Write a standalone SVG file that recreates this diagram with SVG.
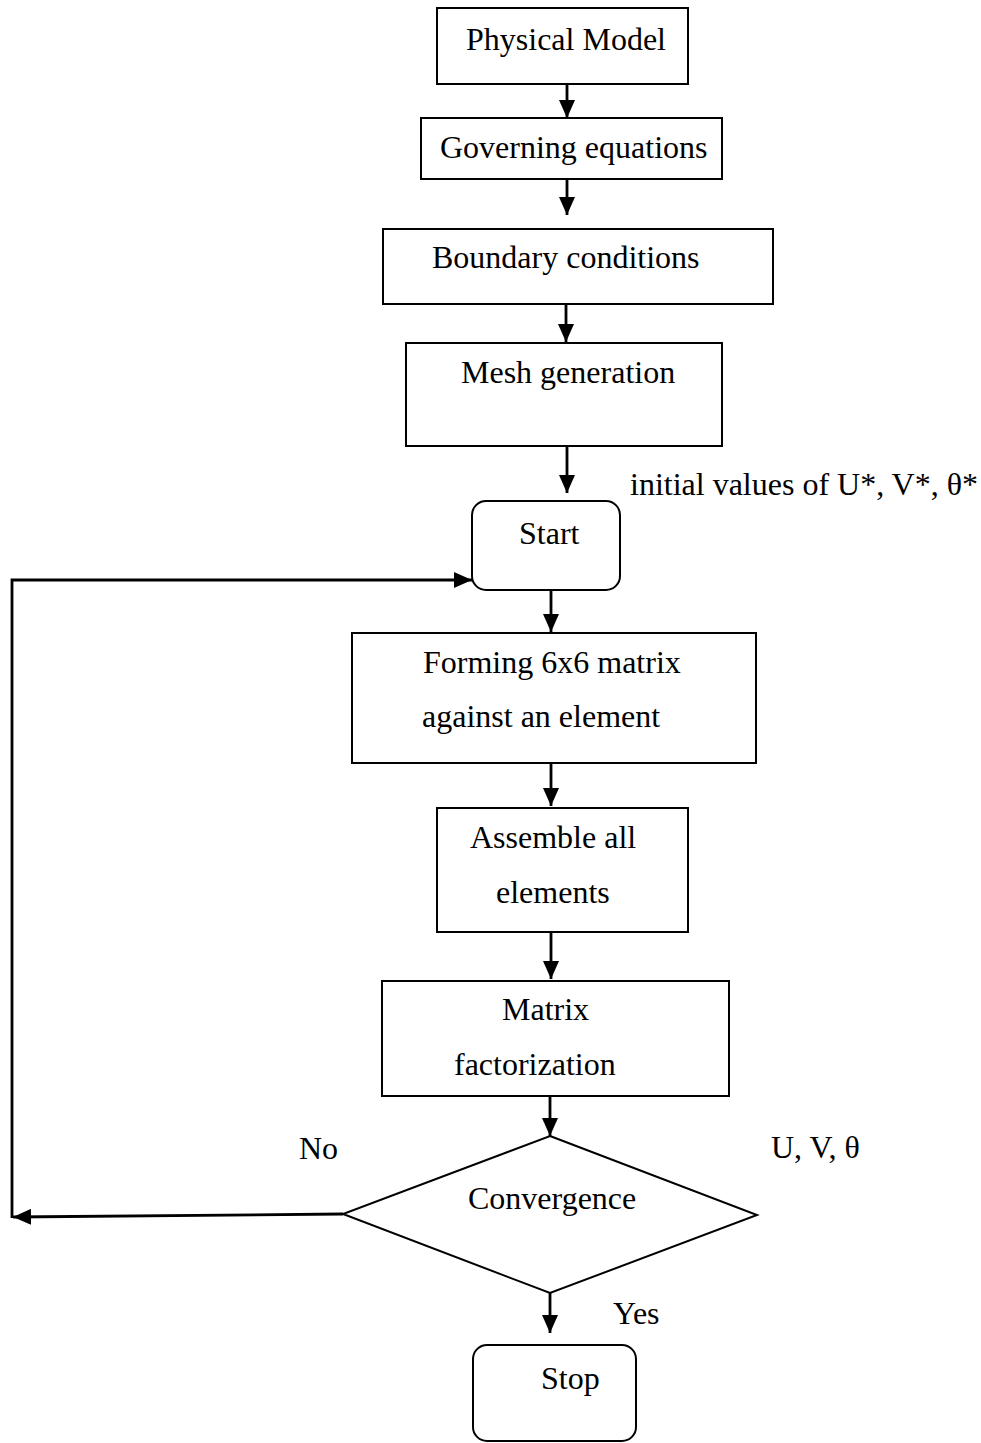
<svg xmlns="http://www.w3.org/2000/svg" width="981" height="1443" viewBox="0 0 981 1443">
<style>
.box{fill:#fff;stroke:#000;stroke-width:2}
.t{font-family:"Liberation Serif","Times New Roman",serif;font-size:32px;fill:#000}
.c{fill:none;stroke:#000;stroke-width:2.8}
</style>
<defs>
<marker id="ah" viewBox="0 0 18 16" refX="18" refY="8" markerWidth="18" markerHeight="16" markerUnits="userSpaceOnUse" orient="auto">
<path d="M0,0 L18,8 L0,16 z" fill="#000"/>
</marker>
</defs>
<rect width="981" height="1443" fill="#fff"/>
<g id="connectors">
<path class="c" d="M567,84 V118" marker-end="url(#ah)"/>
<path class="c" d="M567,179 V215" marker-end="url(#ah)"/>
<path class="c" d="M566,304 V342" marker-end="url(#ah)"/>
<path class="c" d="M567,446 V493" marker-end="url(#ah)"/>
<path class="c" d="M551,590 V632" marker-end="url(#ah)"/>
<path class="c" d="M551,763 V806" marker-end="url(#ah)"/>
<path class="c" d="M551,932 V979" marker-end="url(#ah)"/>
<path class="c" d="M550,1096 V1136" marker-end="url(#ah)"/>
<path class="c" d="M550,1293 V1333" marker-end="url(#ah)"/>
<path class="c" d="M343,1214 L13,1217" marker-end="url(#ah)"/>
<path class="c" d="M12,1218 V580 H472" marker-end="url(#ah)"/>
</g>
<g id="physical-model">
<rect class="box" x="437" y="8" width="251" height="76"/>
<text class="t" x="466" y="50">Physical Model</text>
</g>
<g id="governing-equations">
<rect class="box" x="421" y="118" width="301" height="61"/>
<text class="t" x="440" y="158">Governing equations</text>
</g>
<g id="boundary-conditions">
<rect class="box" x="383" y="229" width="390" height="75"/>
<text class="t" x="432" y="268">Boundary conditions</text>
</g>
<g id="mesh-generation">
<rect class="box" x="406" y="343" width="316" height="103"/>
<text class="t" x="461" y="383">Mesh generation</text>
</g>
<g id="initial-values-label">
<text class="t" x="630" y="495">initial values of U*, V*, θ*</text>
</g>
<g id="start">
<rect class="box" x="472" y="501" width="148" height="89" rx="14" ry="14"/>
<text class="t" x="519" y="544">Start</text>
</g>
<g id="forming-matrix">
<rect class="box" x="352" y="633" width="404" height="130"/>
<text class="t" x="423" y="673">Forming 6x6 matrix</text>
<text class="t" x="422" y="727">against an element</text>
</g>
<g id="assemble">
<rect class="box" x="437" y="808" width="251" height="124"/>
<text class="t" x="470" y="848">Assemble all</text>
<text class="t" x="496" y="903">elements</text>
</g>
<g id="matrix-factorization">
<rect class="box" x="382" y="981" width="347" height="115"/>
<text class="t" x="502" y="1020">Matrix</text>
<text class="t" x="454" y="1075">factorization</text>
</g>
<g id="convergence">
<polygon class="box" points="550,1136 757,1215 550,1293 343,1214"/>
<text class="t" x="468" y="1209">Convergence</text>
</g>
<g id="labels">
<text class="t" x="299" y="1159">No</text>
<text class="t" x="771" y="1158">U, V, θ</text>
<text class="t" x="613" y="1324">Yes</text>
</g>
<g id="stop">
<rect class="box" x="473" y="1345" width="163" height="96" rx="14" ry="14"/>
<text class="t" x="541" y="1389">Stop</text>
</g>
</svg>
